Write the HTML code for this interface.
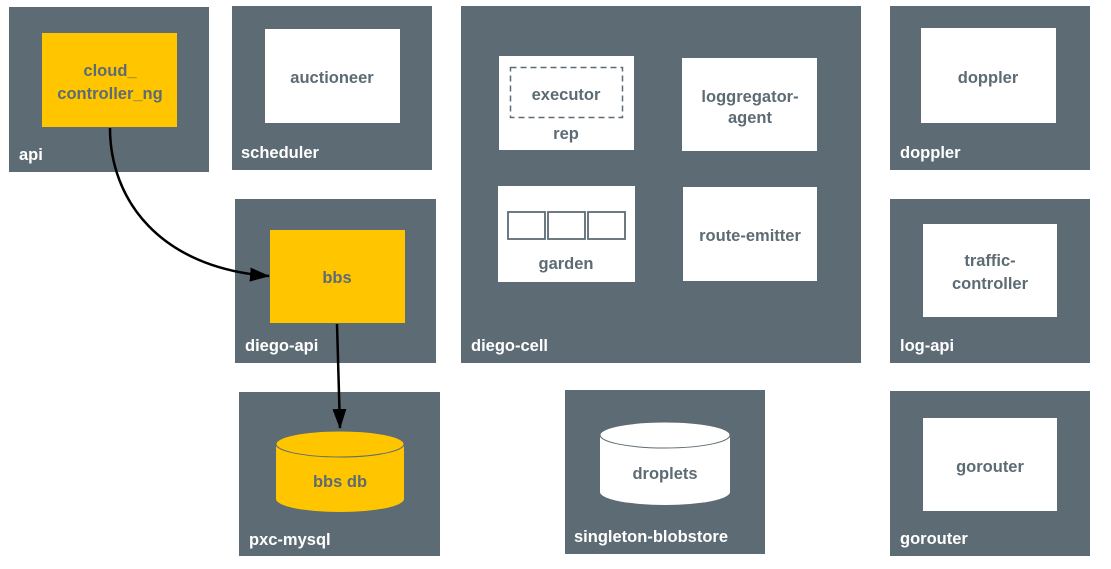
<!DOCTYPE html>
<html><head><meta charset="utf-8"><style>
html,body{margin:0;padding:0;background:#fff;width:1111px;height:569px;overflow:hidden}
svg text{font-family:"Liberation Sans",sans-serif;font-weight:bold}
</style></head><body>
<svg width="1111" height="569" viewBox="0 0 1111 569" xmlns="http://www.w3.org/2000/svg">
<defs><marker id="ar" markerWidth="20" markerHeight="14" refX="19" refY="7" orient="auto" markerUnits="userSpaceOnUse" viewBox="0 0 20 14"><path d="M0,0 L20,7 L0,14 z" fill="#000"/></marker></defs>
<g fill="#5d6b74">
<rect x="9" y="7" width="200" height="165"/>
<rect x="232" y="6" width="200" height="164"/>
<rect x="235" y="199" width="201" height="164"/>
<rect x="461" y="6" width="400" height="357"/>
<rect x="890" y="6" width="200" height="164"/>
<rect x="890" y="199" width="200" height="164"/>
<rect x="890" y="391" width="200" height="165"/>
<rect x="239" y="392" width="201" height="164"/>
<rect x="565" y="390" width="200" height="164"/>
</g>
<rect x="42" y="33" width="135" height="94" fill="#ffc600"/>
<rect x="270" y="230" width="135" height="93" fill="#ffc600"/>
<g fill="#fff">
<rect x="265" y="29" width="135" height="94"/>
<rect x="499" y="56" width="135" height="94"/>
<rect x="682" y="58" width="135" height="93"/>
<rect x="498" y="186" width="137" height="96"/>
<rect x="683" y="187" width="134" height="94"/>
<rect x="921" y="28" width="135" height="95"/>
<rect x="923" y="224" width="134" height="93"/>
<rect x="923" y="418" width="134" height="93"/>
</g>
<rect x="510.5" y="67.5" width="112" height="50" fill="none" stroke="#5d6b74" stroke-width="1.5" stroke-dasharray="6,4"/>
<g fill="none" stroke="#5d6b74" stroke-width="1.8">
<rect x="508" y="212" width="37" height="27"/>
<rect x="548" y="212" width="37" height="27"/>
<rect x="588" y="212" width="37" height="27"/>
</g>
<path d="M276,444 L276,499 A64,13 0 0 0 404,499 L404,444 Z" fill="#ffc600"/>
<ellipse cx="340" cy="444" rx="64" ry="13" fill="#ffc600" stroke="#5d6b74" stroke-width="1"/>
<path d="M600,435 L600,492 A65,13 0 0 0 730,492 L730,435 Z" fill="#fff"/>
<ellipse cx="665" cy="435" rx="65" ry="13" fill="#fff" stroke="#5d6b74" stroke-width="1"/>
<path d="M110,128 C110,200 160,268 269,276" fill="none" stroke="#000" stroke-width="2.5" marker-end="url(#ar)"/>
<path d="M337,324 L340,428" fill="none" stroke="#000" stroke-width="2.5" marker-end="url(#ar)"/>
<g fill="#5d6b74" font-size="16.5" text-anchor="middle">
<text x="110" y="76">cloud_</text>
<text x="110" y="99">controller_ng</text>
<text x="332" y="83">auctioneer</text>
<text x="337" y="283">bbs</text>
<text x="566" y="100">executor</text>
<text x="566" y="139">rep</text>
<text x="750" y="102">loggregator-</text>
<text x="750" y="123">agent</text>
<text x="566" y="269">garden</text>
<text x="750" y="241">route-emitter</text>
<text x="988" y="83">doppler</text>
<text x="990" y="266">traffic-</text>
<text x="990" y="289">controller</text>
<text x="990" y="472">gorouter</text>
<text x="340" y="487">bbs db</text>
<text x="665" y="479">droplets</text>
</g>
<g fill="#fff" font-size="16.5">
<text x="19" y="160">api</text>
<text x="241" y="158">scheduler</text>
<text x="245" y="351">diego-api</text>
<text x="471" y="351">diego-cell</text>
<text x="900" y="158">doppler</text>
<text x="900" y="351">log-api</text>
<text x="900" y="544">gorouter</text>
<text x="249" y="545">pxc-mysql</text>
<text x="574" y="542">singleton-blobstore</text>
</g>
</svg>
</body></html>
